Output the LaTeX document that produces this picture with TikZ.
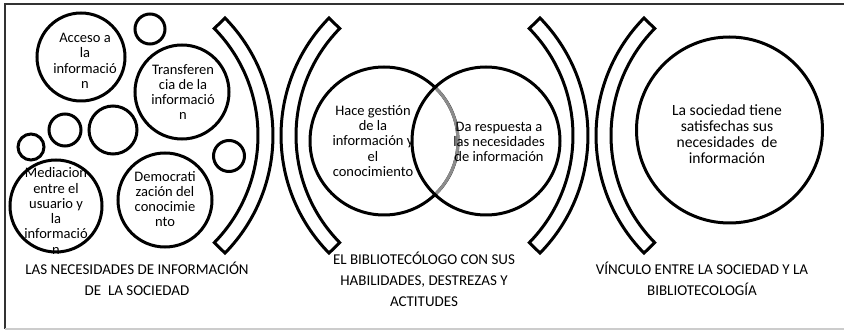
\documentclass[tikz,border=0pt]{standalone}
\usepackage{fontspec}
\setmainfont{Carlito}
\begin{document}
\begin{tikzpicture}[x=1pt,y=-1pt,
  ring/.style={draw=black,line width=3pt,circle,inner sep=0pt},
  band/.style={draw=black,line width=3pt,line join=miter},
  ctext/.style={align=center,font=\fontsize{14.5}{15.3}\selectfont,inner sep=0pt},
  btext/.style={align=center,font=\fontsize{15.6}{15.8}\selectfont,inner sep=0pt},
  ltext/.style={align=center,font=\fontsize{15}{21}\selectfont,inner sep=0pt}]
\useasboundingbox (0,0) rectangle (844,331);
% frame
\draw[line width=2.4pt,black!80] (844,4) -- (5,4) -- (5,329);
\draw[line width=1.4pt,black!20] (5,329) -- (844,329);

% ---- left panel texts (under circles)
\node[ctext] (tacc) at (85,61) {Acceso a\\la\\informació\\n};
\node[ctext] (ttra) at (183,92) {Transferen\\cia de la\\informació\\n};
\node[ctext] (tmed) at (56,211) {Mediacion\\entre el\\usuario y\\la\\informació\\n};
\node[ctext] (tdem) at (165,199) {Democrati\\zación del\\conocimie\\nto};

% ---- left panel circles
\node[ring,minimum size=88pt] (acc) at (81,57) {};
\node[ring,minimum size=94pt] (tra) at (182,92) {};
\node[ring,minimum size=92pt] (med) at (56,206) {};
\node[ring,minimum size=94pt] (dem) at (165,200) {};
\node[ring,minimum size=30pt] (s1) at (150,29) {};
\node[ring,minimum size=26pt] (s2) at (31,147) {};
\node[ring,minimum size=32pt] (s3) at (65,130) {};
\node[ring,minimum size=48pt] (s4) at (113,130) {};
\node[ring,minimum size=31pt] (s5) at (229,156) {};

% ---- brackets
\draw[band] (225,18) arc[start angle=-44.4,end angle=44.4,radius=168]
  -- (214.3,242.6) arc[start angle=44.4,end angle=-44.4,radius=153] -- cycle;
\draw[band] (329,18) arc[start angle=224.4,end angle=135.6,radius=168]
  -- (339.7,242.6) arc[start angle=135.6,end angle=224.4,radius=153] -- cycle;
\draw[band] (540,18) arc[start angle=-44.4,end angle=44.4,radius=168]
  -- (529.3,242.6) arc[start angle=44.4,end angle=-44.4,radius=153] -- cycle;
\draw[band] (644,18) arc[start angle=224.4,end angle=135.6,radius=168]
  -- (654.7,242.6) arc[start angle=135.6,end angle=224.4,radius=153] -- cycle;

% ---- Venn
\node[ring,minimum size=148pt] (vl) at (384,141) {};
\draw[line width=3pt,black!45] (435,87.4) arc[start angle=-46.4,end angle=46.4,radius=74];
\node[ring,minimum size=148pt] (vr) at (486,141) {};
\node[ctext] (tvl) at (373,141) {Hace gestión\\de la\\información y\\el\\conocimiento};
\node[ctext] (tvr) at (499,142) {Da respuesta a\\las necesidades\\de información};

% ---- right circle
\node[ring,minimum size=186pt] (big) at (729.5,130) {};
\node[btext] (tbig) at (727,134) {La sociedad tiene\\satisfechas sus\\necesidades~ de\\información};

% ---- bottom labels
\node[ltext] (l1) at (137,279) {LAS NECESIDADES DE INFORMACIÓN\\DE~ LA SOCIEDAD};
\node[ltext] (l2) at (424,279) {EL BIBLIOTECÓLOGO CON SUS\\HABILIDADES, DESTREZAS Y\\ACTITUDES};
\node[ltext] (l3) at (702,279) {VÍNCULO ENTRE LA SOCIEDAD Y LA\\BIBLIOTECOLOGÍA};
\end{tikzpicture}
\end{document}
